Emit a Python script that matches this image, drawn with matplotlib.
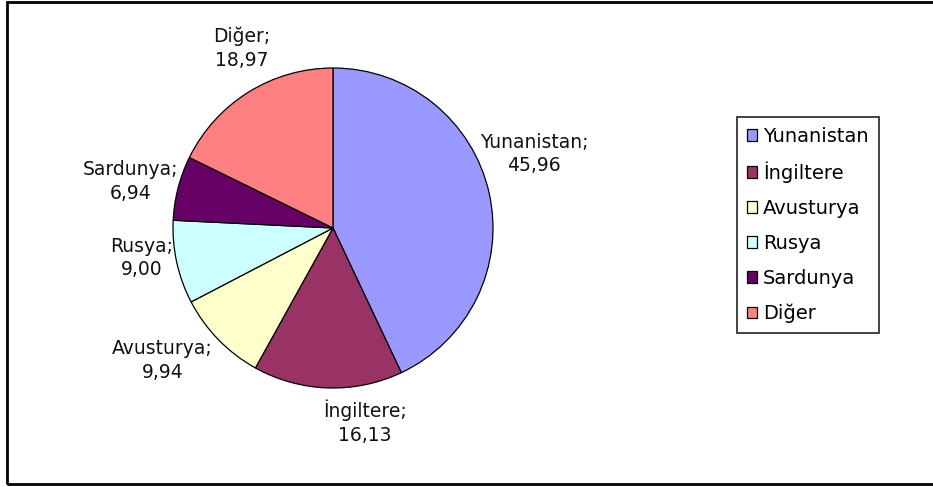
import numpy as np
import matplotlib.pyplot as plt
from matplotlib.patches import Rectangle, Patch

countries = ['Yunanistan', 'İngiltere', 'Avusturya', 'Rusya', 'Sardunya', 'Diğer']
shares = [45.96, 16.13, 9.94, 9.00, 6.94, 18.97]
colors = ['#9999FF', '#993366', '#FFFFCC', '#CCFFFF', '#660066', '#FF8080']

# label placement (radius factor, angle nudge in degrees), Excel-like
label_r = [1.34, 1.23, 1.35, 1.21, 1.30, 1.26]
label_nudge = [7.5, 11.2, -6.4, -3.5, 1.5, -5.1]

W, H = 933, 487
fig = plt.figure(figsize=(W / 100, H / 100), dpi=100)
fig.patch.set_facecolor('white')

# pie axes: centre (333, 228) px, radius 160 px
cx, cy, r = 333, 228, 160
ax = fig.add_axes([(cx - r) / W, 1 - (cy + r) / H, 2 * r / W, 2 * r / H])

wedges, _ = ax.pie(shares, colors=colors, startangle=90, counterclock=False,
                   radius=1, wedgeprops=dict(edgecolor='black', linewidth=0.9))
ax.set_xlim(-1, 1)
ax.set_ylim(-1, 1)
ax.axis('off')

for w, name, val, rf, nd in zip(wedges, countries, shares, label_r, label_nudge):
    mid = np.deg2rad((w.theta1 + w.theta2) / 2 + nd)
    x, y = rf * np.cos(mid), rf * np.sin(mid)
    txt = f"{name};\n{val:.2f}".replace('.', ',')
    ax.text(x, y, txt, ha='center', va='center', fontsize=13.5, color='#111111',
            linespacing=1.3, clip_on=False)

handles = [Patch(facecolor=c, edgecolor='black', linewidth=0.9) for c in colors]
leg = fig.legend(handles, countries, loc='upper left',
                 bbox_to_anchor=(737 / W, 1 - 117 / H), borderaxespad=0,
                 fontsize=14, frameon=True, fancybox=False, shadow=False,
                 handlelength=0.55, handleheight=0.55, handletextpad=0.3,
                 labelspacing=0.82, borderpad=0.5)
leg.get_frame().set_edgecolor('black')
leg.get_frame().set_linewidth(1.3)

# outer chart border (right edge falls outside the image)
fig.patches.append(Rectangle((7 / W, 1 - 484 / H), 1.2, (484 - 2) / H,
                             transform=fig.transFigure, fill=False,
                             edgecolor='black', linewidth=2, zorder=0))

fig.savefig('out.png', dpi=100)
